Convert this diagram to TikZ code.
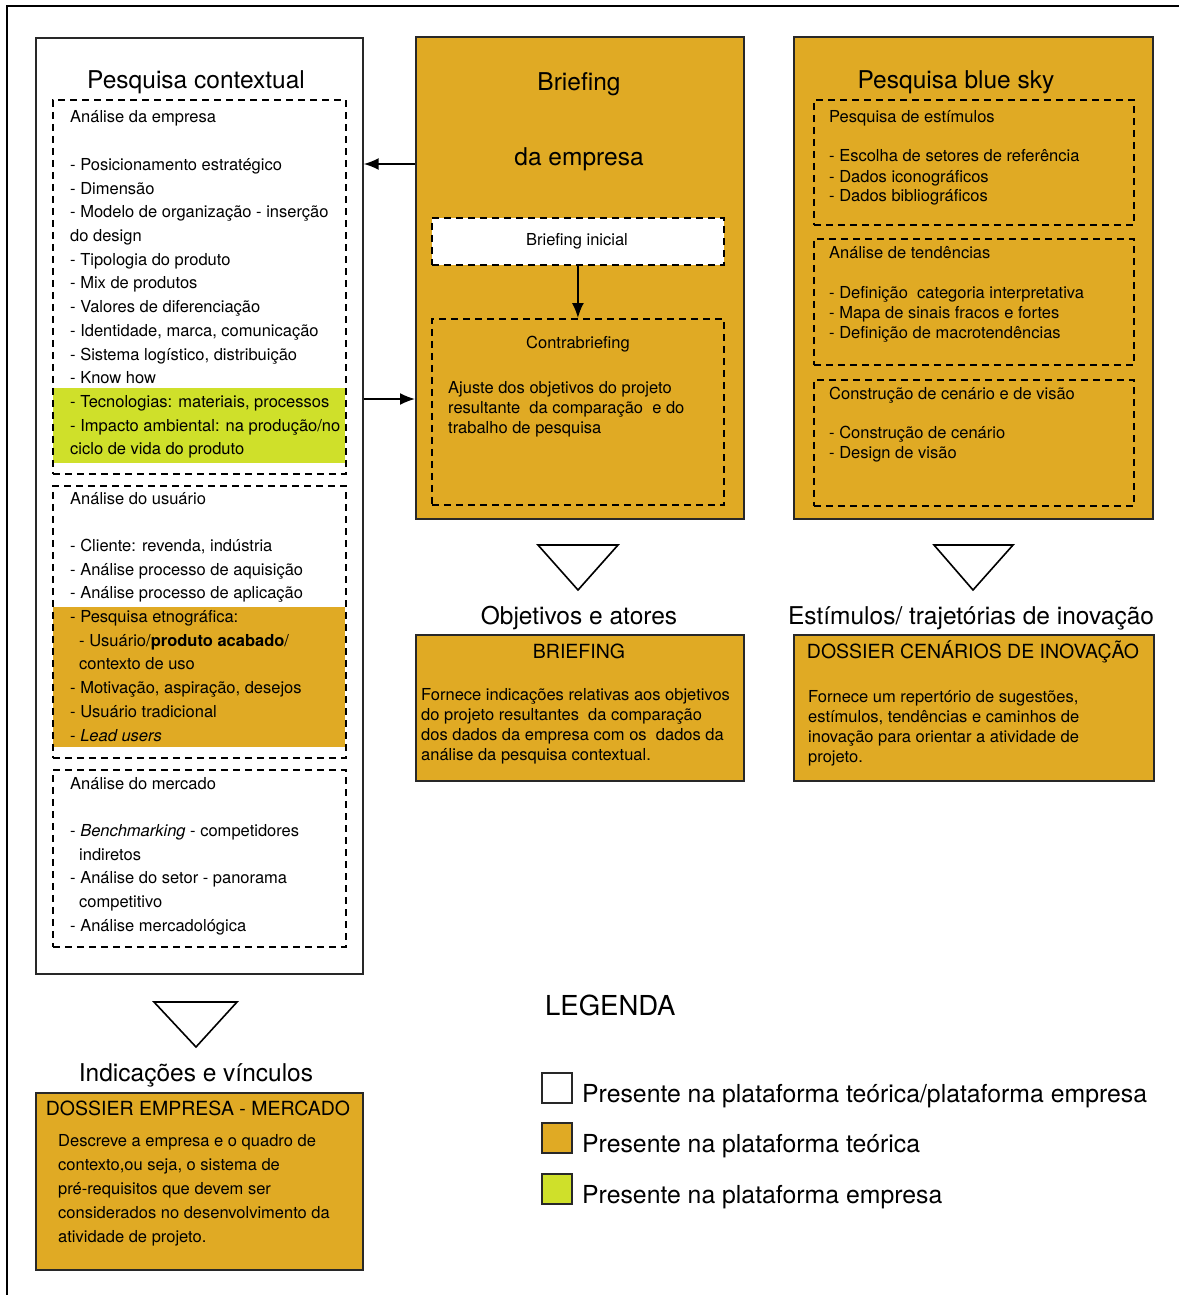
\documentclass[tikz,border=0pt]{standalone}
\usepackage{fontspec}
\setmainfont{TeX Gyre Heros}
\usetikzlibrary{arrows.meta}
\definecolor{gold}{RGB}{224,170,36}
\definecolor{lime}{RGB}{207,224,42}
\definecolor{edge}{RGB}{40,40,40}
\newcommand\bodyfont[1]{\fontsize{16.5}{#1}\selectfont}
\newcommand\titlefont{\fontsize{24.5}{28}\selectfont}
\newcommand\capfont{\fontsize{19.5}{23}\selectfont}
\begin{document}
\begin{tikzpicture}[x=1pt,y=-1pt,
  solidbox/.style={draw=edge,line width=1.7pt,anchor=north west,inner sep=0pt},
  dashbox/.style={draw=black,line width=1.8pt,dash pattern=on 7pt off 5pt,anchor=north west,inner sep=0pt},
  txt/.style={anchor=base west,inner sep=0pt},
  ctxt/.style={anchor=base,inner sep=0pt},
  arr/.style={line width=1.7pt,-{Latex[length=15pt,width=12pt]}},
  tri/.style={draw=black,line width=1.6pt,line join=miter}]
\useasboundingbox (0,0) rectangle (1179,1295);
% outer frame (cut off at right and bottom)
\draw[line width=2.2pt] (7,1295) -- (7,6) -- (1179,6);

% ---------------- Left column ----------------
\node[solidbox,minimum width=327pt,minimum height=936pt] (ctx) at (35,37) {};
\node[ctxt] (ctxtitle) at (196,89) {\titlefont Pesquisa contextual};
\fill[lime] (53,388) rectangle (345,463);
\fill[gold] (53,607) rectangle (345,747);
\node[dashbox,minimum width=293pt,minimum height=374pt] (emp) at (52,99) {};
\node[dashbox,minimum width=293pt,minimum height=272pt] (usu) at (52,485) {};
\node[dashbox,minimum width=293pt,minimum height=177pt] (mer) at (52,769) {};
\node[txt] (emptxt) at (70,123) {\parbox[t]{280pt}{\raggedright\bodyfont{23.7}%
Análise da empresa\\[23.7pt]
- Posicionamento estratégico\\
- Dimensão\\
- Modelo de organização - inserção\\
do design\\
- Tipologia do produto\\
- Mix de produtos\\
- Valores de diferenciação\\
- Identidade, marca, comunicação\\
- Sistema logístico, distribuição\\
- Know how\\
- Tecnologias: materiais, processos\\
- Impacto ambiental: na produção/no\\
ciclo de vida do produto}};
\node[txt] (usutxt) at (70,504) {\parbox[t]{280pt}{\raggedright\bodyfont{23.7}%
Análise do usuário\\[23.7pt]
- Cliente: revenda, indústria\\
- Análise processo de aquisição\\
- Análise processo de aplicação\\
- Pesquisa etnográfica:\\
\hspace*{9pt}- Usuário/\textbf{produto acabado}/\\
\hspace*{9pt}contexto de uso\\
- Motivação, aspiração, desejos\\
- Usuário tradicional\\
- \textit{Lead users}}};
\node[txt] (mertxt) at (70,789) {\parbox[t]{280pt}{\raggedright\bodyfont{23.7}%
Análise do mercado\\[23.7pt]
- \textit{Benchmarking} - competidores\\
\hspace*{9pt}indiretos\\
- Análise do setor - panorama\\
\hspace*{9pt}competitivo\\
- Análise mercadológica}};

\draw[tri] (154,1002) -- (237,1002) -- (196,1047) -- cycle;
\node[ctxt] (indic) at (196,1081) {\titlefont Indicações e vínculos};
\node[solidbox,fill=gold,minimum width=327pt,minimum height=177pt] (dout) at (35,1092) {};
\node[ctxt] (douttitle) at (198,1115) {\capfont DOSSIER EMPRESA - MERCADO};
\node[txt] (douttxt) at (58,1146) {\parbox[t]{300pt}{\raggedright\bodyfont{24}%
Descreve a empresa e o quadro de\\
contexto,ou seja, o sistema de\\
pré-requisitos que devem ser\\
considerados no desenvolvimento da\\
atividade de projeto.}};

% ---------------- Middle column ----------------
\node[solidbox,fill=gold,minimum width=328pt,minimum height=482pt] (brief) at (415,36) {};
\node[ctxt] (brieft1) at (579,91) {\titlefont Briefing};
\node[ctxt] (brieft2) at (579,165) {\titlefont da empresa};
\node[dashbox,fill=white,minimum width=292pt,minimum height=47pt] (binit) at (431,217) {};
\node[ctxt] (binittxt) at (577,245) {\bodyfont{20}Briefing inicial};
\node[dashbox,minimum width=292pt,minimum height=186pt] (contra) at (431,318) {};
\node[ctxt] (contratitle) at (578,348) {\bodyfont{20}Contrabriefing};
\node[txt] (contratxt) at (448,393) {\parbox[t]{270pt}{\raggedright\bodyfont{20}%
Ajuste dos objetivos do projeto\\
resultante\ \ da comparação\ \ e do\\
trabalho de pesquisa}};
\draw[arr] (binit.south) -- (contra.north);

\draw[arr] (brief.west |- 0,164) -- (ctx.east |- 0,164);
\draw[arr] (ctx.east |- 0,399) -- (brief.west |- 0,399);

\draw[tri] (538,545) -- (618,545) -- (578,590) -- cycle;
\node[ctxt] (objet) at (579,624) {\titlefont Objetivos e atores};
\node[solidbox,fill=gold,minimum width=328pt,minimum height=146pt] (bout) at (415,634) {};
\node[ctxt] (bouttitle) at (579,658) {\capfont BRIEFING};
\node[txt] (bouttxt) at (421,700) {\parbox[t]{320pt}{\raggedright\bodyfont{20}%
Fornece indicações relativas aos objetivos\\
do projeto resultantes\ \ da comparação\\
dos dados da empresa com os\ \ dados da\\
análise da pesquisa contextual.}};

% ---------------- Right column ----------------
\node[solidbox,fill=gold,minimum width=359pt,minimum height=482pt] (sky) at (793,36) {};
\node[ctxt] (skytitle) at (956,89) {\titlefont Pesquisa blue sky};
\node[dashbox,minimum width=320pt,minimum height=125pt] (s1) at (813,99) {};
\node[dashbox,minimum width=320pt,minimum height=126pt] (s2) at (813,238) {};
\node[dashbox,minimum width=320pt,minimum height=126pt] (s3) at (813,379) {};
\node[txt] (s1txt) at (829,123) {\parbox[t]{300pt}{\raggedright\bodyfont{20}%
Pesquisa de estímulos\\[19pt]
- Escolha de setores de referência\\
- Dados iconográficos\\
- Dados bibliográficos}};
\node[txt] (s2txt) at (829,258) {\parbox[t]{300pt}{\raggedright\bodyfont{20}%
Análise de tendências\\[20pt]
- Definição\ \ categoria interpretativa\\
- Mapa de sinais fracos e fortes\\
- Definição de macrotendências}};
\node[txt] (s3txt) at (829,399) {\parbox[t]{300pt}{\raggedright\bodyfont{20}%
Construção de cenário e de visão\\[19pt]
- Construção de cenário\\
- Design de visão}};

\draw[tri] (934,545) -- (1013,545) -- (973,590) -- cycle;
\node[ctxt] (estim) at (971,624) {\titlefont Estímulos/ trajetórias de inovação};
\node[solidbox,fill=gold,minimum width=360pt,minimum height=146pt] (cout) at (793,634) {};
\node[ctxt] (couttitle) at (973,658) {\capfont DOSSIER CENÁRIOS DE INOVAÇÃO};
\node[txt] (couttxt) at (808,702) {\parbox[t]{330pt}{\raggedright\bodyfont{20}%
Fornece um repertório de sugestões,\\
estímulos, tendências e caminhos de\\
inovação para orientar a atividade de\\
projeto.}};

% ---------------- Legend ----------------
\node[txt] (leg) at (545,1015) {\fontsize{27.5}{30}\selectfont LEGENDA};
\node[solidbox,fill=white,minimum width=30pt,minimum height=30pt] (lg1) at (541,1072) {};
\node[solidbox,fill=gold,minimum width=30pt,minimum height=30pt] (lg2) at (541,1122) {};
\node[solidbox,fill=lime,minimum width=30pt,minimum height=30pt] (lg3) at (541,1173) {};
\node[txt] (lg1t) at (582,1102) {\fontsize{24.8}{28}\selectfont Presente na plataforma teórica/plataforma empresa};
\node[txt] (lg2t) at (582,1152) {\fontsize{24.8}{28}\selectfont Presente na plataforma teórica};
\node[txt] (lg3t) at (582,1203) {\fontsize{24.8}{28}\selectfont Presente na plataforma empresa};
\end{tikzpicture}
\end{document}
